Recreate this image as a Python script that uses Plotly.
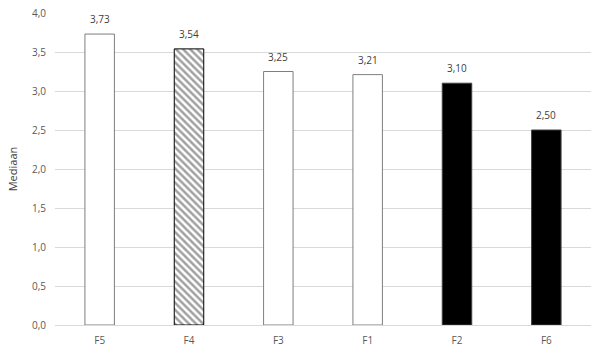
import plotly.graph_objects as go

categories = ["F5", "F4", "F3", "F1", "F2", "F6"]
values = [3.73, 3.54, 3.25, 3.21, 3.10, 2.50]
fill_colors = ["white", "white", "white", "white", "black", "black"]
patterns = ["", "\\", "", "", "", ""]
y_ticks = [0, 0.5, 1.0, 1.5, 2.0, 2.5, 3.0, 3.5, 4.0]

fig = go.Figure(go.Bar(
    x=categories,
    y=values,
    width=0.33,
    marker=dict(
        color=fill_colors,
        line=dict(color=["#7f7f7f", "#000000", "#7f7f7f", "#7f7f7f", "#404040", "#404040"], width=1),
        pattern=dict(shape=patterns, fgcolor="black", bgcolor="white", size=5, solidity=0.5),
    ),
    cliponaxis=False,
))

for c, v in zip(categories, values):
    fig.add_annotation(
        x=c, y=v, text=f"{v:.2f}".replace(".", ","),
        showarrow=False, yanchor="bottom", yshift=6,
        font=dict(size=10, color="#404040"),
    )

fig.update_layout(
    width=600, height=353,
    margin=dict(l=55, r=9, t=13, b=28),
    paper_bgcolor="white", plot_bgcolor="white",
    separators=",.",
    font=dict(family="Open Sans, sans-serif", size=10, color="#595959"),
    showlegend=False,
)
fig.update_yaxes(
    range=[0, 4.0], tickvals=y_ticks, tickformat=".1f", automargin=False,
    showgrid=True, gridcolor="#d9d9d9", gridwidth=1,
    zeroline=True, zerolinecolor="#d9d9d9", zerolinewidth=1,
    title=dict(text="Mediaan", font=dict(size=11, color="#404040"), standoff=12),
    ticks="", ticklabelstandoff=8, tickfont=dict(size=10, color="#595959"),
)
fig.update_xaxes(
    showline=False, ticks="", ticklabelstandoff=8, automargin=False,
    tickfont=dict(size=10, color="#595959"),
)

fig.write_html("out.html")
